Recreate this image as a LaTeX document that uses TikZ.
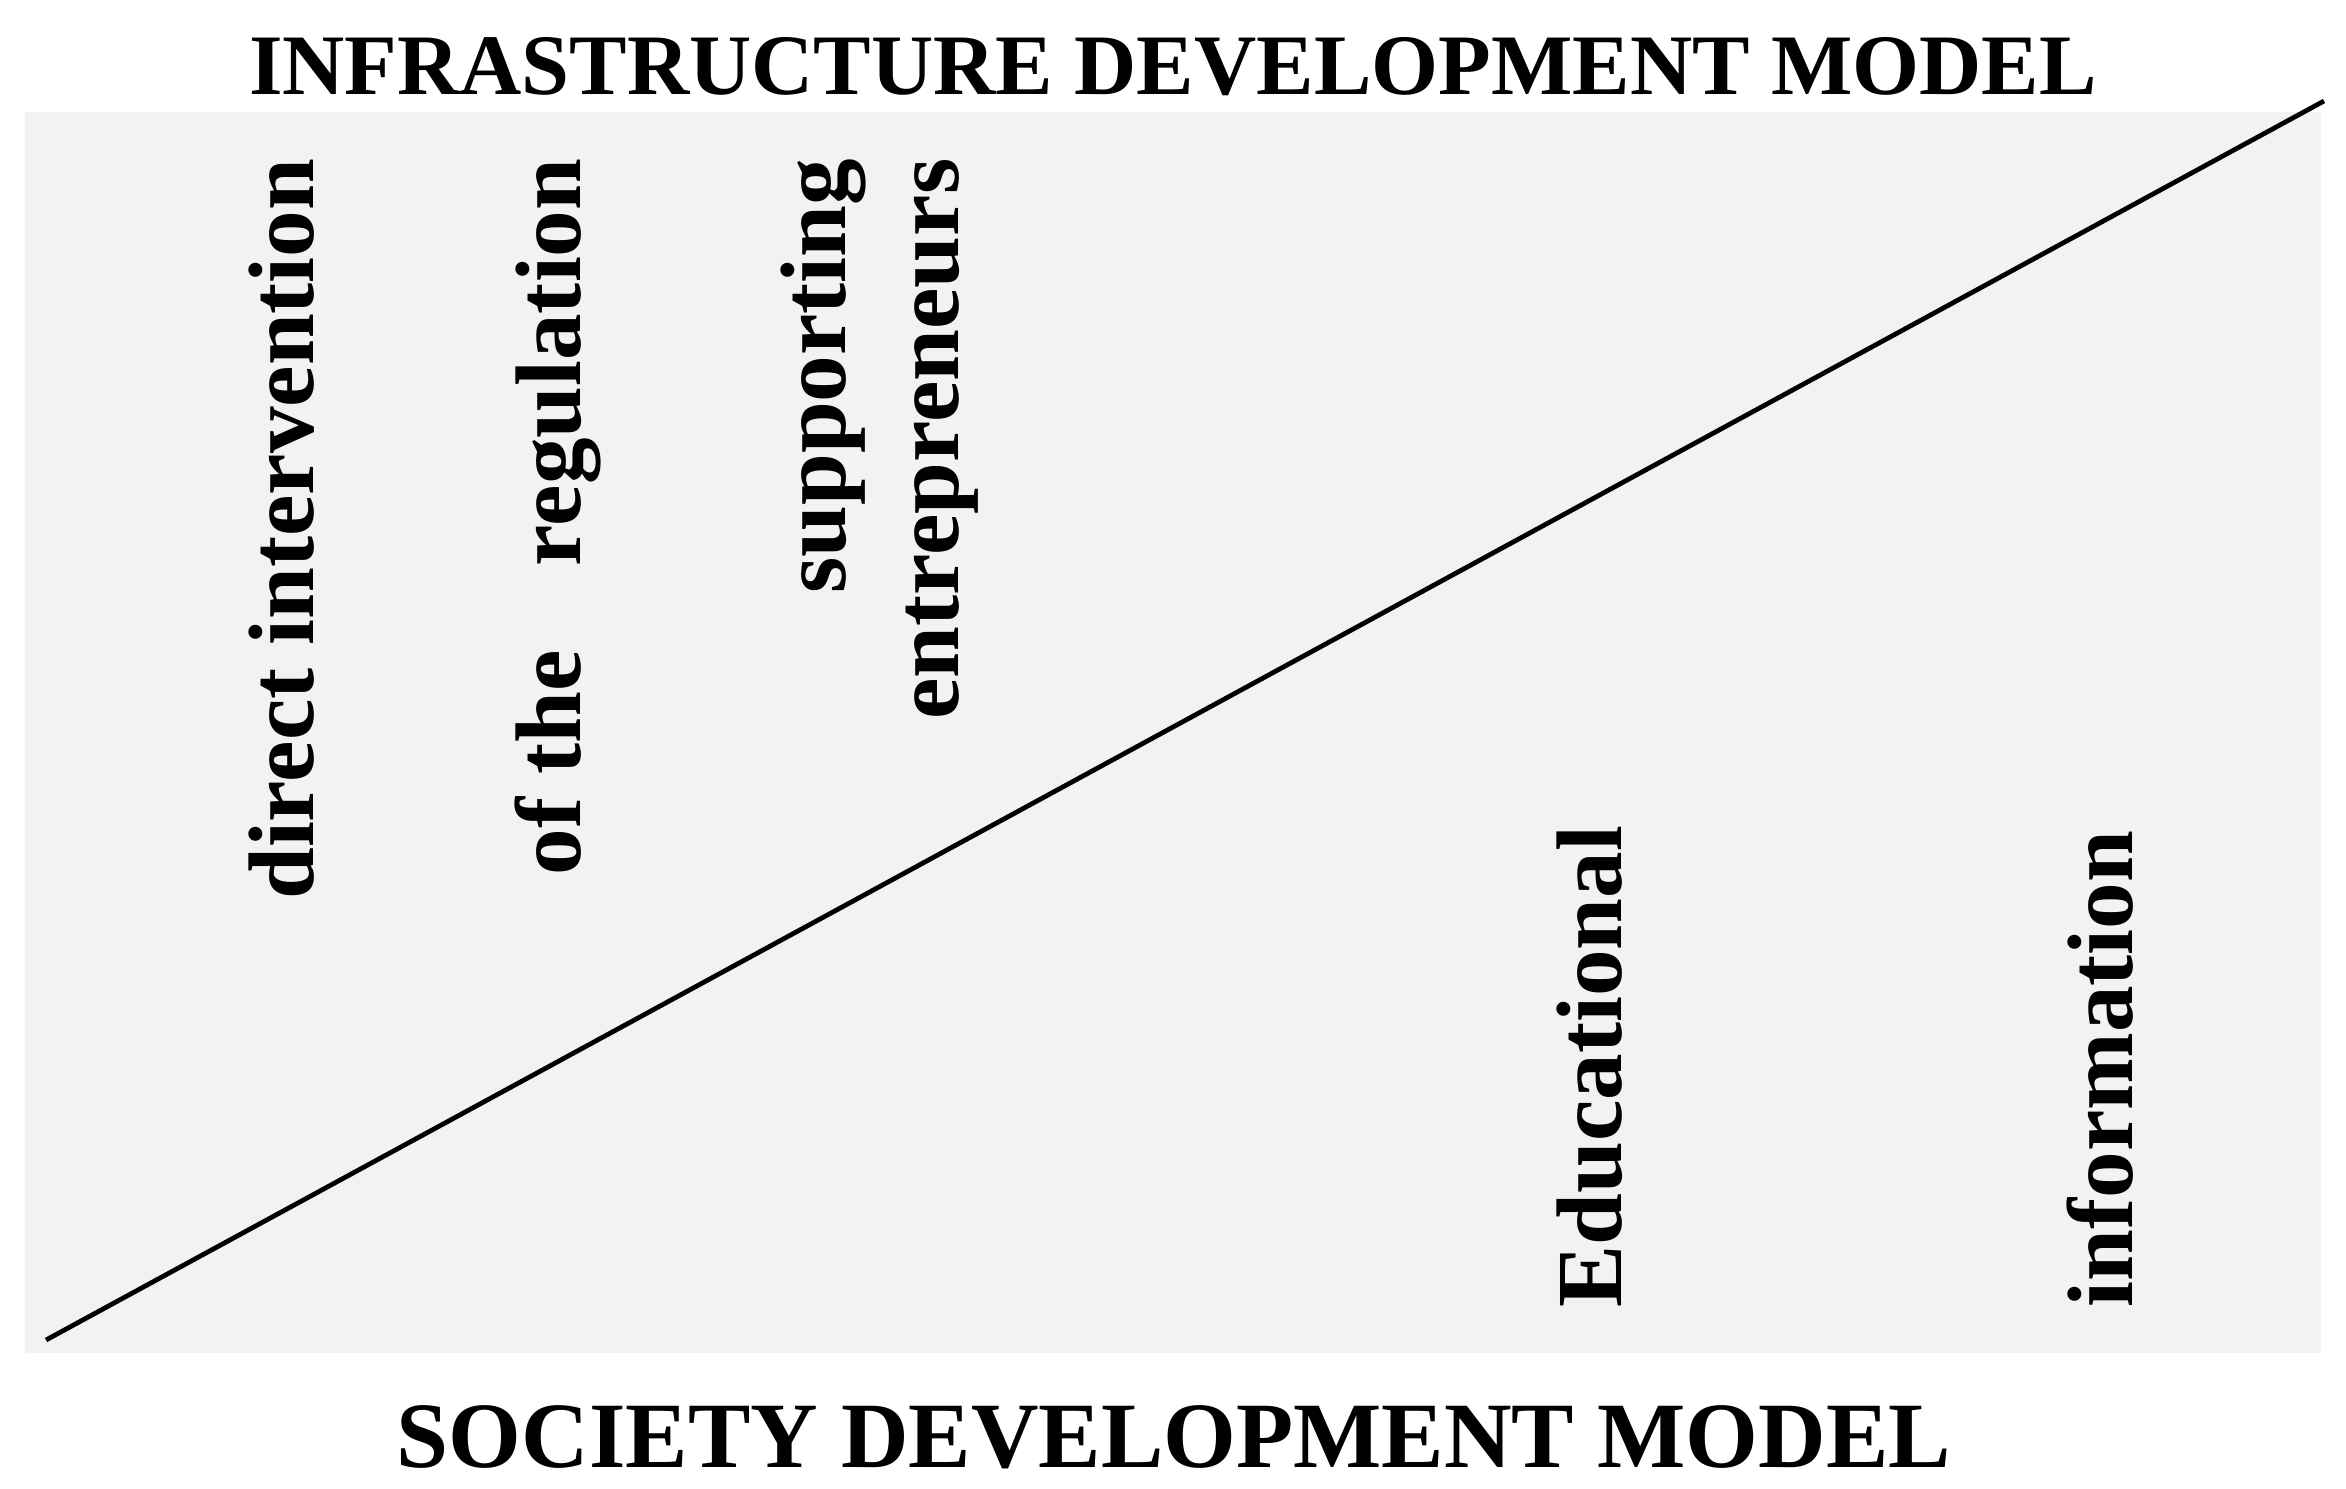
\documentclass[tikz,border=0pt]{standalone}
\usepackage{fontspec}
\setmainfont{Liberation Serif}
\usepackage{tikz}
\usetikzlibrary{positioning}
\definecolor{panelgray}{RGB}{242,242,242}

\begin{document}
\begin{tikzpicture}[x=0.01cm,y=-0.01cm,
        heading/.style={font=\bfseries\fontsize{24.5pt}{30pt}\selectfont,inner sep=0pt},
        vlabel/.style={font=\bfseries\fontsize{26.5pt}{30pt}\selectfont,inner sep=0pt,rotate=90}]
    \useasboundingbox (0,0) rectangle (2346,1488);
    \fill[panelgray] (25,112) rectangle (2321,1353);

    % dividing line
    \coordinate (d_0) at (46,1340);
    \coordinate (d_1) at (2324,101);
    \draw[line width=1.35pt] (d_0) -- (d_1);

    \node[heading,anchor=base] (top) at (1173,95) {INFRASTRUCTURE DEVELOPMENT MODEL};
    \node[heading,anchor=base,font=\bfseries\fontsize{26.6pt}{30pt}\selectfont] (bottom) at (1174,1467) {SOCIETY DEVELOPMENT MODEL};

    % upper labels
    \node[vlabel,anchor=base east] (l_0) at (313,158) {direct intervention};
    \node[vlabel,anchor=base east] (l_1) at (580,158) {of the\hspace{0.84cm}regulation};
    \node[vlabel,anchor=base east] (l_2) at (845,158) {supporting};
    \node[vlabel,anchor=base east] (l_3) at (958,158) {entrepreneurs};

    % lower labels
    \node[vlabel,anchor=base west] (r_0) at (1621,1308) {Educational};
    \node[vlabel,anchor=base west] (r_1) at (2132,1308) {information};
\end{tikzpicture}
\end{document}
